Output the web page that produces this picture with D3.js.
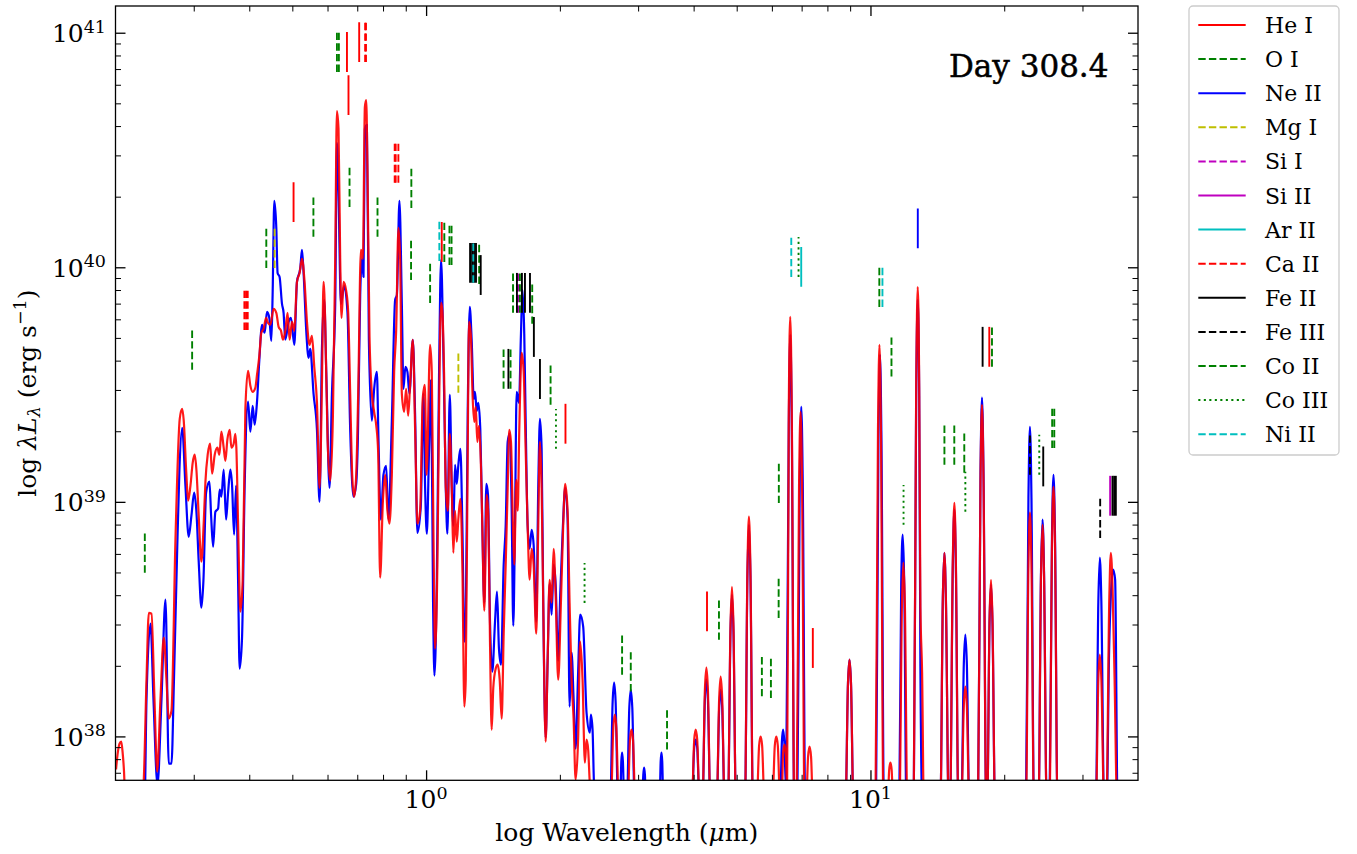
<!DOCTYPE html>
<html>
<head>
<meta charset="utf-8">
<script src="https://cdnjs.cloudflare.com/ajax/libs/d3/7.8.5/d3.min.js"></script>
<style>
body { margin: 0; background: #fff; }
svg text { font-family: "DejaVu Serif", serif; fill: #000; }
</style>
</head>
<body>
<svg id="chart" width="1357" height="854"></svg>
<script>
// Spectra: [log10 wavelength (um), log10 lambda*L_lambda (erg/s)]
const blueSpec = [
[-0.6989,37.7],[-0.6337,37.7],[-0.6292,38.157],[-0.6202,38.481],[-0.6135,38.157],[-0.6045,37.795],[-0.5955,38.157],[-0.5865,38.583],[-0.5791,37.884],[-0.5730,37.884],[-0.5674,38.242],[-0.5602,38.792],[-0.5551,39.137],[-0.5490,39.316],[-0.5416,39.069],[-0.5342,38.851],[-0.5281,38.941],[-0.5220,39.039],[-0.5169,38.958],[-0.5117,38.745],[-0.5056,38.549],[-0.5011,38.664],[-0.4951,39.039],[-0.4876,39.086],[-0.4838,38.941],[-0.4793,38.809],[-0.4742,38.958],[-0.4681,38.971],[-0.4645,39.052],[-0.4607,39.022],[-0.4555,39.137],[-0.4501,38.924],[-0.4456,39.039],[-0.4404,39.137],[-0.4366,39.069],[-0.4321,38.860],[-0.4276,39.069],[-0.4231,38.664],[-0.4196,38.289],[-0.4142,38.421],[-0.4083,39.069],[-0.4007,39.427],[-0.3955,39.299],[-0.3903,39.409],[-0.3858,39.329],[-0.3805,39.427],[-0.3753,39.605],[-0.3692,39.755],[-0.3634,39.721],[-0.3580,39.810],[-0.3528,39.784],[-0.3483,39.686],[-0.3454,39.882],[-0.3416,40.283],[-0.3371,40.168],[-0.3342,39.976],[-0.3297,39.959],[-0.3243,39.844],[-0.3207,39.806],[-0.3169,39.691],[-0.3094,39.767],[-0.3040,39.784],[-0.2966,39.669],[-0.2906,39.938],[-0.2831,39.997],[-0.2793,40.074],[-0.2757,39.976],[-0.2697,39.729],[-0.2645,39.614],[-0.2607,39.652],[-0.2533,39.461],[-0.2456,39.307],[-0.2398,39.000],[-0.2344,39.652],[-0.2292,39.861],[-0.2247,39.554],[-0.2173,39.060],[-0.2119,39.461],[-0.2045,39.844],[-0.2007,40.530],[-0.1971,40.321],[-0.1917,39.844],[-0.1843,39.921],[-0.1769,39.806],[-0.1708,39.307],[-0.1634,39.022],[-0.1573,39.077],[-0.1535,39.269],[-0.1483,39.882],[-0.1445,40.036],[-0.1409,39.959],[-0.1378,40.590],[-0.1333,40.607],[-0.1288,39.691],[-0.1220,39.346],[-0.1169,39.482],[-0.1108,39.554],[-0.1072,39.269],[-0.1018,38.924],[-0.0960,39.115],[-0.0899,39.154],[-0.0847,38.924],[-0.0771,39.346],[-0.0697,39.861],[-0.0658,39.882],[-0.0600,40.283],[-0.0546,39.844],[-0.0510,39.482],[-0.0465,39.576],[-0.0420,39.554],[-0.0375,39.461],[-0.0299,39.691],[-0.0247,39.367],[-0.0196,38.868],[-0.0119,38.983],[-0.0061,39.461],[-0.0022,39.060],[0.0016,38.864],[0.0067,39.226],[0.0112,39.520],[0.0157,38.570],[0.0187,38.259],[0.0240,38.651],[0.0292,39.554],[0.0337,40.032],[0.0389,39.635],[0.0443,39.060],[0.0479,38.864],[0.0533,39.456],[0.0578,39.060],[0.0613,38.898],[0.0652,39.158],[0.0690,39.077],[0.0726,39.158],[0.0771,39.226],[0.0816,38.898],[0.0861,38.404],[0.0892,38.489],[0.0937,39.388],[0.0982,39.831],[0.1027,39.682],[0.1072,39.439],[0.1101,39.469],[0.1139,39.388],[0.1175,39.422],[0.1220,39.307],[0.1265,38.898],[0.1310,38.570],[0.1355,39.077],[0.1393,39.030],[0.1438,38.489],[0.1490,38.276],[0.1551,38.489],[0.1596,38.617],[0.1640,38.374],[0.1685,38.306],[0.1746,38.732],[0.1791,38.898],[0.1836,39.256],[0.1881,39.290],[0.1926,38.962],[0.1962,38.472],[0.2000,38.898],[0.2038,39.469],[0.2090,39.422],[0.2135,39.716],[0.2169,39.904],[0.2209,39.716],[0.2240,39.354],[0.2285,38.898],[0.2330,38.800],[0.2375,38.881],[0.2420,38.817],[0.2479,38.489],[0.2524,39.060],[0.2562,39.354],[0.2600,39.226],[0.2636,38.570],[0.2690,37.995],[0.2735,38.323],[0.2780,38.651],[0.2825,38.519],[0.2870,38.732],[0.2915,38.651],[0.2973,38.323],[0.3018,38.604],[0.3079,38.898],[0.3130,39.060],[0.3184,38.928],[0.3229,38.127],[0.3274,38.357],[0.3319,38.161],[0.3364,37.948],[0.3422,38.276],[0.3467,38.519],[0.3535,38.468],[0.3611,38.101],[0.3685,38.016],[0.3708,38.093],[0.3746,38.029],[0.3775,37.816],[0.3820,37.7],
[0.4142,37.7],[0.4198,38.148],[0.4231,38.229],[0.4265,38.148],[0.4321,37.7],
[0.4366,37.7],[0.4393,37.893],[0.4411,37.931],[0.4429,37.893],[0.4461,37.7],
[0.4517,37.7],[0.4573,38.123],[0.4607,38.199],[0.4640,38.123],[0.4697,37.7],
[0.4861,37.7],[0.4888,37.837],[0.4906,37.867],[0.4924,37.837],[0.4951,37.7],
[0.5252,37.7],[0.5279,37.893],[0.5297,37.931],[0.5314,37.893],[0.5341,37.7],
[0.5978,37.7],[0.6034,37.952],[0.6067,37.986],[0.6101,37.952],[0.6157,37.7],
[0.6218,37.7],[0.6274,38.157],[0.6308,38.242],[0.6342,38.157],[0.6398,37.7],
[0.6539,37.7],[0.6596,38.123],[0.6629,38.199],[0.6663,38.123],[0.6719,37.7],
[0.6793,37.7],[0.6850,38.446],[0.6883,38.604],[0.6917,38.446],[0.6973,37.7],
[0.7175,37.7],[0.7231,38.685],[0.7265,38.902],[0.7299,38.685],[0.7355,37.7],
[0.7966,37.7],[0.8007,37.978],[0.8034,38.029],[0.8061,37.978],[0.8101,37.773],[0.8162,39.333],[0.8195,39.712],[0.8229,39.333],[0.8285,37.7],
[0.8353,37.7],[0.8409,39.086],[0.8443,39.405],[0.8476,39.086],[0.8533,37.7],
[0.9438,37.7],[0.9494,38.225],[0.9528,38.327],[0.9562,38.225],[0.9618,37.7],
[1.0124,37.7],[1.0180,39.265],[1.0214,39.627],[1.0247,39.265],[1.0303,37.7],
[1.0647,37.7],[1.0692,38.651],[1.0726,38.860],[1.0760,38.651],[1.0809,37.7],
[1.0973,37.7],[1.1029,39.452],[1.1063,39.861],[1.1097,39.452],[1.1124,38.297],[1.1169,37.7],
[1.1573,37.7],[1.1629,38.591],[1.1663,38.783],[1.1697,38.591],[1.1760,37.7],
[1.1791,37.7],[1.1854,38.736],[1.1888,38.966],[1.1921,38.736],[1.1978,37.7],
[1.2045,37.7],[1.2101,38.310],[1.2135,38.434],[1.2169,38.310],[1.2225,37.7],
[1.2420,37.7],[1.2476,39.120],[1.2510,39.444],[1.2544,39.120],[1.2605,37.7],
[1.2627,37.7],[1.2679,38.481],[1.2713,38.647],[1.2746,38.481],[1.2803,37.7],
[1.3499,37.7],[1.3555,39.017],[1.3589,39.320],[1.3623,39.017],[1.3679,37.7],
[1.3782,37.7],[1.3838,38.702],[1.3872,38.924],[1.3906,38.702],[1.3966,37.7],
[1.4029,37.7],[1.4085,38.856],[1.4119,39.115],[1.4153,38.856],[1.4209,37.7],
[1.5072,37.7],[1.5128,38.574],[1.5162,38.762],[1.5196,38.574],[1.5258,37.7],
[1.5315,37.7],[1.5371,38.370],[1.5416,38.625],[1.5461,38.711],[1.5506,38.668],[1.5562,37.7],
[1.6045,37.7]
];

const redSpec = [
[-0.6978,37.859],[-0.6944,37.922],[-0.6899,37.969],[-0.6861,37.978],[-0.6831,37.935],[-0.6798,37.850],[-0.6764,37.7],[-0.6405,37.7],[-0.6353,37.816],[-0.6292,38.242],[-0.6240,38.527],[-0.6180,38.523],[-0.6112,38.157],[-0.6052,37.850],[-0.5978,38.157],[-0.5903,38.421],[-0.5843,38.242],[-0.5791,38.076],[-0.5730,38.110],[-0.5640,38.843],[-0.5544,39.354],[-0.5490,39.397],[-0.5454,39.346],[-0.5400,39.137],[-0.5355,39.005],[-0.5303,39.069],[-0.5252,39.167],[-0.5207,39.201],[-0.5169,39.137],[-0.5117,38.941],[-0.5056,38.745],[-0.5005,38.907],[-0.4966,39.086],[-0.4915,39.201],[-0.4861,39.248],[-0.4816,39.120],[-0.4757,39.201],[-0.4697,39.231],[-0.4652,39.201],[-0.4607,39.299],[-0.4555,39.231],[-0.4517,39.175],[-0.4472,39.265],[-0.4420,39.307],[-0.4382,39.231],[-0.4330,39.248],[-0.4292,39.290],[-0.4270,39.231],[-0.4231,38.907],[-0.4180,38.532],[-0.4128,38.664],[-0.4067,39.397],[-0.4007,39.559],[-0.3955,39.495],[-0.3903,39.469],[-0.3843,39.486],[-0.3805,39.542],[-0.3753,39.622],[-0.3708,39.721],[-0.3656,39.738],[-0.3602,39.784],[-0.3557,39.763],[-0.3506,39.755],[-0.3431,39.823],[-0.3371,39.806],[-0.3319,39.746],[-0.3265,39.729],[-0.3220,39.691],[-0.3169,39.729],[-0.3117,39.806],[-0.3072,39.691],[-0.3018,39.767],[-0.2966,39.729],[-0.2906,39.938],[-0.2847,39.976],[-0.2793,40.036],[-0.2735,39.938],[-0.2681,39.767],[-0.2623,39.669],[-0.2569,39.708],[-0.2517,39.576],[-0.2456,39.422],[-0.2398,39.060],[-0.2344,39.499],[-0.2308,39.938],[-0.2270,39.767],[-0.2218,39.269],[-0.2157,39.090],[-0.2097,39.367],[-0.2045,40.036],[-0.2007,40.666],[-0.1971,40.590],[-0.1933,40.036],[-0.1903,39.784],[-0.1858,39.938],[-0.1798,39.899],[-0.1753,39.806],[-0.1708,39.461],[-0.1663,39.115],[-0.1618,39.022],[-0.1573,39.115],[-0.1528,39.461],[-0.1467,40.074],[-0.1422,40.036],[-0.1378,40.683],[-0.1348,40.713],[-0.1319,40.415],[-0.1274,39.708],[-0.1220,39.461],[-0.1169,39.384],[-0.1124,39.329],[-0.1079,39.213],[-0.1034,38.677],[-0.0973,39.000],[-0.0921,39.115],[-0.0870,38.962],[-0.0825,38.907],[-0.0771,39.115],[-0.0719,39.554],[-0.0674,39.729],[-0.0622,40.168],[-0.0584,40.036],[-0.0546,39.461],[-0.0494,39.384],[-0.0449,39.482],[-0.0404,39.367],[-0.0360,39.499],[-0.0299,39.691],[-0.0247,39.307],[-0.0196,38.907],[-0.0135,38.962],[-0.0074,39.444],[-0.0029,39.499],[0.0011,39.115],[0.0090,39.669],[0.0128,39.554],[0.0164,38.898],[0.0202,38.374],[0.0254,38.732],[0.0292,39.388],[0.0337,39.848],[0.0366,39.814],[0.0404,39.554],[0.0443,39.060],[0.0488,38.962],[0.0533,39.290],[0.0578,39.060],[0.0613,38.783],[0.0652,38.962],[0.0690,38.830],[0.0726,38.928],[0.0771,39.013],[0.0816,38.732],[0.0861,38.127],[0.0892,38.242],[0.0937,39.226],[0.0966,39.767],[0.1005,39.716],[0.1049,39.439],[0.1085,39.341],[0.1117,39.405],[0.1153,39.256],[0.1191,39.324],[0.1236,39.141],[0.1265,38.898],[0.1310,38.536],[0.1364,39.030],[0.1400,38.945],[0.1438,38.404],[0.1476,38.029],[0.1512,38.208],[0.1566,38.289],[0.1611,38.306],[0.1656,38.242],[0.1701,38.076],[0.1746,38.438],[0.1791,38.732],[0.1836,39.060],[0.1872,39.307],[0.1910,39.256],[0.1955,38.898],[0.1984,38.732],[0.2029,39.094],[0.2061,38.962],[0.2097,39.307],[0.2151,39.635],[0.2196,39.554],[0.2240,39.226],[0.2285,38.898],[0.2330,38.668],[0.2375,38.800],[0.2420,38.732],[0.2479,38.438],[0.2524,38.898],[0.2562,39.256],[0.2600,39.060],[0.2636,38.570],[0.2690,37.978],[0.2735,38.323],[0.2780,38.668],[0.2825,38.570],[0.2870,38.800],[0.2915,38.604],[0.2973,38.242],[0.3034,38.570],[0.3085,38.898],[0.3130,39.077],[0.3184,38.962],[0.3229,38.570],[0.3274,38.242],[0.3319,38.076],[0.3364,37.816],[0.3422,37.995],[0.3467,38.404],[0.3521,38.242],[0.3573,37.888],[0.3611,37.986],[0.3647,37.944],[0.3685,37.795],[0.3730,37.7],
[0.4157,37.7],[0.4213,38.037],[0.4247,38.093],[0.4281,38.037],[0.4337,37.7],
[0.4533,37.7],[0.4589,37.986],[0.4622,38.029],[0.4656,37.986],[0.4712,37.7],
[0.5978,37.7],[0.6034,37.986],[0.6067,38.029],[0.6101,37.986],[0.6157,37.7],
[0.6218,37.7],[0.6274,38.199],[0.6308,38.293],[0.6342,38.199],[0.6398,37.7],
[0.6539,37.7],[0.6596,38.165],[0.6629,38.255],[0.6663,38.165],[0.6719,37.7],
[0.6793,37.7],[0.6850,38.472],[0.6883,38.638],[0.6917,38.472],[0.6973,37.7],
[0.7175,37.7],[0.7231,38.711],[0.7265,38.937],[0.7299,38.711],[0.7355,37.7],
[0.7438,37.7],[0.7494,37.961],[0.7528,37.999],[0.7562,37.961],[0.7618,37.7],
[0.7791,37.7],[0.7847,37.961],[0.7881,37.999],[0.7915,37.961],[0.7971,37.7],
[0.8000,37.7],[0.8034,37.930],[0.8067,37.965],[0.8101,37.901],[0.8124,37.773],[0.8162,39.392],[0.8195,39.789],[0.8229,39.392],[0.8285,37.7],
[0.8337,37.7],[0.8393,39.069],[0.8427,39.384],[0.8461,39.069],[0.8517,37.7],
[0.8551,37.7],[0.8596,37.914],[0.8629,37.957],[0.8663,37.914],[0.8708,37.7],
[0.9438,37.7],[0.9494,38.225],[0.9528,38.327],[0.9562,38.225],[0.9618,37.7],
[1.0112,37.7],[1.0169,39.299],[1.0202,39.669],[1.0236,39.299],[1.0292,37.7],
[1.0382,37.7],[1.0422,37.859],[1.0449,37.888],[1.0476,37.859],[1.0517,37.7],
[1.0652,37.7],[1.0708,38.557],[1.0742,38.741],[1.0775,38.557],[1.0831,37.7],
[1.0973,37.7],[1.1029,39.495],[1.1063,39.916],[1.1097,39.495],[1.1124,38.553],[1.1162,38.272],[1.1202,37.7],
[1.1573,37.7],[1.1629,38.591],[1.1663,38.783],[1.1697,38.591],[1.1760,37.7],
[1.1791,37.7],[1.1854,38.762],[1.1888,38.996],[1.1921,38.762],[1.1978,37.7],
[1.2045,37.7],[1.2101,38.131],[1.2135,38.212],[1.2169,38.131],[1.2225,37.7],
[1.2420,37.7],[1.2476,39.094],[1.2510,39.414],[1.2544,39.094],[1.2605,37.7],
[1.2627,37.7],[1.2679,38.498],[1.2713,38.668],[1.2746,38.498],[1.2803,37.7],
[1.3499,37.7],[1.3555,38.728],[1.3589,38.954],[1.3623,38.728],[1.3679,37.7],
[1.3782,37.7],[1.3838,38.685],[1.3872,38.902],[1.3906,38.685],[1.3966,37.7],
[1.4029,37.7],[1.4085,38.813],[1.4119,39.064],[1.4153,38.813],[1.4209,37.7],
[1.5072,37.7],[1.5128,38.242],[1.5162,38.349],[1.5196,38.242],[1.5258,37.7],
[1.5308,37.7],[1.5375,38.591],[1.5409,38.783],[1.5449,38.625],[1.5494,38.242],[1.5551,37.7],
[1.6045,37.7]
];

// Line identifications: [wavelength (um), log10 L at the lower end of the mark]
const heI = [[0.5032,40.193],[0.6636,40.833],[0.6689,40.649],[0.7070,40.875],[1.0845,40.023],[2.059,39.248],[4.287,38.448],[7.418,38.292],[18.51,39.576]];
const oI = [[0.5577,40.13],[0.6300,40.833],[0.6364,40.833],[0.7774,40.13],[0.9264,40.253],[1.1287,40.01],[1.3164,39.929]];
const neII = [[12.78,40.081]];
const mgI = [[0.4561,39.997],[1.182,39.465]];
const siI = [[1.612,39.806]];
const siII = [[34.62,38.941]];
const arII = [[6.985,39.917]];
const caII = [[0.3900,39.733],[0.3934,39.733],[0.3968,39.733],[0.7291,40.875],[0.7324,40.875],[0.8498,40.36],[0.8542,40.36],[0.8662,40.36]];
const feII = [[1.256,39.934],[1.269,39.934],[1.282,39.934],[1.295,39.934],[1.327,39.882],[1.532,39.482],[1.601,39.806],[1.643,39.806],[1.669,39.806],[1.713,39.806],[1.748,39.618],[1.804,39.439],[17.88,39.576],[24.48,39.066],[35.04,38.941],[35.35,38.941],[35.66,38.941]];
const feIII = [[22.85,39.116],[32.88,38.846]];
const coII = [[0.2328,38.698],[0.2975,39.563],[0.4369,39.997],[0.6725,40.257],[0.925,39.946],[1.021,39.848],[1.099,40.023],[1.141,40.01],[1.494,39.482],[1.549,39.482],[1.569,39.806],[1.626,39.806],[1.733,39.759],[1.906,39.414],[2.761,38.263],[2.888,38.192],[3.485,37.944],[4.561,38.412],[5.697,38.171],[5.970,38.164],[6.214,38.505],[6.22,38.995],[10.47,39.831],[11.15,39.534],[14.67,39.158],[15.44,39.158],[16.26,39.124],[18.77,39.576],[25.64,39.23],[25.92,39.23]];
const coIII = [[1.960,39.226],[2.273,38.569],[6.889,39.959],[11.87,38.902],[16.35,38.958],[23.98,39.116]];
const niII = [[1.071,40.027],[1.277,39.934],[6.634,39.959],[10.64,39.831]];

const xMajor = [1, 10];
const xMinor = [0.3,0.4,0.5,0.6,0.7,0.8,0.9,2,3,4,5,6,7,8,9,20,30];
const yMajor = [1e38, 1e39, 1e40, 1e41];
const yMinor = [7e37,8e37,9e37,2e38,3e38,4e38,5e38,6e38,7e38,8e38,9e38,2e39,3e39,4e39,5e39,6e39,7e39,8e39,9e39,2e40,3e40,4e40,5e40,6e40,7e40,8e40,9e40];

const DASH = '7.4,3.2', DOT = '2.1,3.4';
const species = [
  { name: 'He I',   data: heI,   color: '#ff0000', dash: null },
  { name: 'O I',    data: oI,    color: '#008000', dash: DASH },
  { name: 'Ne II',  data: neII,  color: '#0000ff', dash: null },
  { name: 'Mg I',   data: mgI,   color: '#bfbf00', dash: DASH },
  { name: 'Si I',   data: siI,   color: '#bf00bf', dash: DASH },
  { name: 'Si II',  data: siII,  color: '#bf00bf', dash: null },
  { name: 'Ar II',  data: arII,  color: '#00bfbf', dash: null },
  { name: 'Ca II',  data: caII,  color: '#ff0000', dash: DASH },
  { name: 'Fe II',  data: feII,  color: '#000000', dash: null },
  { name: 'Fe III', data: feIII, color: '#000000', dash: DASH },
  { name: 'Co II',  data: coII,  color: '#008000', dash: DASH },
  { name: 'Co III', data: coIII, color: '#008000', dash: DOT },
  { name: 'Ni II',  data: niII,  color: '#00bfbf', dash: DASH }
];
const markLen = 0.17; // dex

const svg = d3.select('#chart');
const pL = 115.5, pR = 1138, pT = 6, pB = 780.3;

const x = d3.scaleLog().domain([0.2, 40]).range([pL, pR]);
const y = d3.scaleLog().domain([6.5e37, 1.3e41]).range([pB, pT]);

svg.append('defs').append('clipPath').attr('id', 'plotclip')
  .append('rect').attr('x', pL).attr('y', pT)
  .attr('width', pR - pL).attr('height', pB - pT);

const plot = svg.append('g').attr('clip-path', 'url(#plotclip)');

const line = d3.line()
  .x(d => x(Math.pow(10, d[0])))
  .y(d => y(Math.pow(10, d[1])))
  .curve(d3.curveMonotoneX);

plot.append('path').datum(blueSpec)
  .attr('d', line).attr('fill', 'none')
  .attr('stroke', '#0000ff').attr('stroke-width', 2.2).attr('stroke-linejoin', 'round');

plot.append('path').datum(redSpec)
  .attr('d', line).attr('fill', 'none')
  .attr('stroke', '#ff0000').attr('stroke-opacity', 0.9)
  .attr('stroke-width', 2.2).attr('stroke-linejoin', 'round');

// line identification marks
species.forEach(sp => {
  plot.selectAll(null).data(sp.data).enter().append('line')
    .attr('x1', d => x(d[0])).attr('x2', d => x(d[0]))
    .attr('y1', d => y(Math.pow(10, d[1])))
    .attr('y2', d => y(Math.pow(10, d[1] + markLen)))
    .attr('stroke', sp.color).attr('stroke-width', 1.9)
    .attr('stroke-dasharray', sp.dash);
});

// axes (ticks pointing inward on all four sides)
function styleAxis(g, w) {
  g.select('.domain').remove();
  g.selectAll('.tick line').attr('stroke', '#000').attr('stroke-width', w);
  g.selectAll('.tick text').remove();
}
const axes = [
  [d3.axisBottom(x), `translate(0,${pB})`, xMajor, xMinor],
  [d3.axisTop(x), `translate(0,${pT})`, xMajor, xMinor],
  [d3.axisLeft(y), `translate(${pL},0)`, yMajor, yMinor],
  [d3.axisRight(y), `translate(${pR},0)`, yMajor, yMinor]
];
axes.forEach(([ax, tr, maj, mn]) => {
  svg.append('g').attr('transform', tr)
    .call(ax.tickValues(maj).tickSize(-10).tickFormat(''))
    .call(g => styleAxis(g, 1.3));
  svg.append('g').attr('transform', tr)
    .call(ax.tickValues(mn).tickSize(-5.5).tickFormat(''))
    .call(g => styleAxis(g, 1));
});

svg.append('rect')
  .attr('x', pL).attr('y', pT)
  .attr('width', pR - pL).attr('height', pB - pT)
  .attr('fill', 'none').attr('stroke', '#000').attr('stroke-width', 1.3);

// tick labels 10^n
function powLabel(sel, n) {
  sel.append('tspan').text('10');
  sel.append('tspan').attr('dy', -9.5).attr('font-size', '17.5px').text(n);
}
yMajor.forEach(v => {
  const t = svg.append('text')
    .attr('x', pL - 9.5).attr('y', y(v) + 9.4)
    .attr('text-anchor', 'end').attr('font-size', '25px');
  powLabel(t, Math.round(Math.log10(v)));
});
xMajor.forEach(v => {
  const t = svg.append('text')
    .attr('x', x(v)).attr('y', 808)
    .attr('text-anchor', 'middle').attr('font-size', '25px');
  powLabel(t, Math.round(Math.log10(v)));
});

// axis titles
const xt = svg.append('text')
  .attr('x', (pL + pR) / 2).attr('y', 841)
  .attr('text-anchor', 'middle').attr('font-size', '25px');
xt.append('tspan').text('log Wavelength (');
xt.append('tspan').attr('font-style', 'italic').text('\u03bc');
xt.append('tspan').text('m)');

const yt = svg.append('text')
  .attr('transform', `translate(36,${(pT + pB) / 2}) rotate(-90)`)
  .attr('text-anchor', 'middle').attr('font-size', '25px');
yt.append('tspan').text('log ');
yt.append('tspan').attr('font-style', 'italic').text('\u03bbL');
yt.append('tspan').attr('font-style', 'italic').attr('font-size', '17.5px').attr('dy', 4).text('\u03bb');
yt.append('tspan').attr('dy', -4).text(' (erg s');
yt.append('tspan').attr('font-size', '17.5px').attr('dy', -10).text('\u22121');
yt.append('tspan').attr('dy', 10).text(')');

// annotation
svg.append('text').attr('x', 949).attr('y', 77)
  .attr('font-size', '31px').attr('stroke', '#000').attr('stroke-width', 0.5)
  .text('Day 308.4');

// legend
const lg = svg.append('g');
lg.append('rect')
  .attr('x', 1189).attr('y', 6).attr('width', 150).attr('height', 449)
  .attr('rx', 4).attr('fill', '#fff').attr('fill-opacity', 0.8)
  .attr('stroke', '#cccccc').attr('stroke-width', 1.3);
species.forEach((sp, i) => {
  const ly = 25 + i * 34.1;
  lg.append('line')
    .attr('x1', 1198.3).attr('x2', 1245.7).attr('y1', ly).attr('y2', ly)
    .attr('stroke', sp.color).attr('stroke-width', 2)
    .attr('stroke-dasharray', sp.dash);
  lg.append('text').attr('x', 1265).attr('y', ly + 8)
    .attr('font-size', '22px').text(sp.name);
});
</script>
</body>
</html>
